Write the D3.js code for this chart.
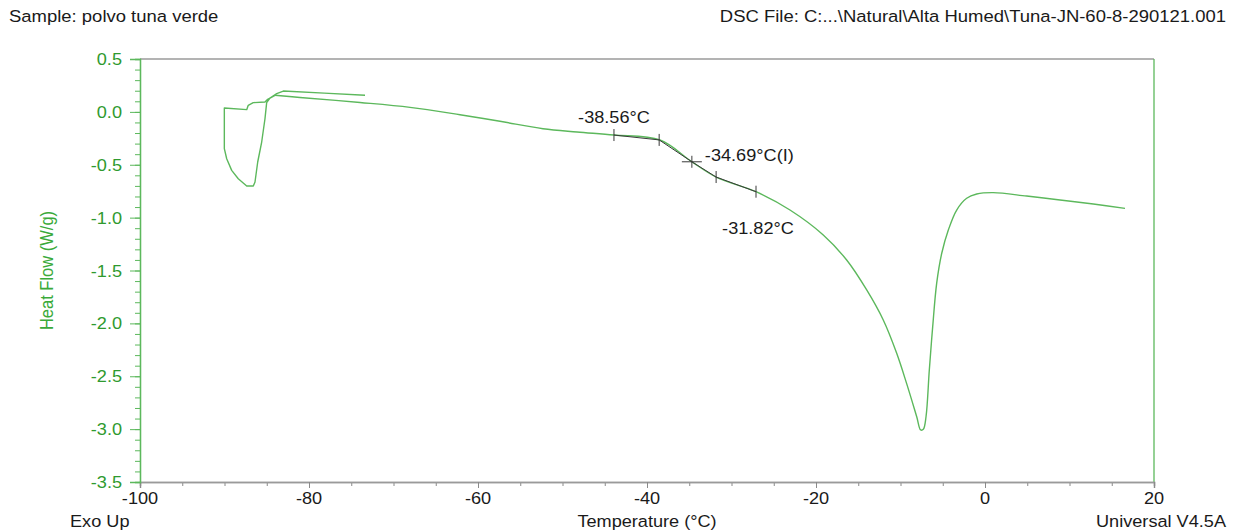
<!DOCTYPE html>
<html>
<head>
<meta charset="utf-8">
<script src="https://cdn.jsdelivr.net/npm/d3@7"></script>
<style>
  html, body { margin: 0; padding: 0; background: #fff; }
  svg { display: block; font-family: "Liberation Sans", Arial, sans-serif; }
</style>
</head>
<body>
<svg id="chart" width="1239" height="532"></svg>
<script>
// DSC thermogram: cooling to -90 °C, then heating to ~17 °C
const temperature = [
  -73.37, -78.2, -83.04, -83.82, -84.62, -85.01, -85.21, -85.60, -86.07, -86.39,
  -86.59, -87.37, -88.37, -89.15, -89.74, -90.02, -90.02, -87.37, -87.19, -86.60,
  -85.21, -84.89, -84.02, -81.07, -73.96, -68.05, -62.13, -57.40, -52.31, -48.28,
  -43.91, -38.46, -34.71, -31.76, -27.10, -23.08, -19.14, -16.37, -14.00, -12.04,
  -10.45, -9.27, -8.08, -7.61, -7.30, -6.98, -6.59, -6.19, -5.72, -5.12,
  -4.34, -3.35, -2.17, -0.98, 0.98, 4.93, 8.88, 12.82, 16.57
];
const heatFlow = [
  0.157, 0.177, 0.197, 0.172, 0.131, 0.087, -0.065, -0.285, -0.474, -0.663,
  -0.701, -0.701, -0.632, -0.553, -0.443, -0.348, 0.037, 0.021, 0.062, 0.087,
  0.093, 0.119, 0.157, 0.136, 0.089, 0.043, -0.027, -0.089, -0.159, -0.190,
  -0.219, -0.266, -0.471, -0.619, -0.755, -0.928, -1.164, -1.401, -1.684, -1.968,
  -2.283, -2.57, -2.883, -3.008, -3.002, -2.883, -2.441, -2.031, -1.621, -1.337,
  -1.117, -0.928, -0.817, -0.777, -0.764, -0.796, -0.833, -0.871, -0.912
];
// index where the heating ramp begins
const heatingStart = 22;

// Glass transition analysis
const analysisLimits = [-43.91, -27.10];
const onsetTemp = -38.56, inflectionTemp = -34.69, endTemp = -31.82;
const transitionLabels = ["-38.56°C", "-34.69°C(I)", "-31.82°C"];

// Axis ticks
const xTicks = [-100, -80, -60, -40, -20, 0, 20];
const yTicks = [0.5, 0.0, -0.5, -1.0, -1.5, -2.0, -2.5, -3.0, -3.5];

const headerLeft = "Sample: polvo tuna verde";
const headerRight = "DSC File: C:...\\Natural\\Alta Humed\\Tuna-JN-60-8-290121.001";

const svg = d3.select("#chart");
const plotLeft = 140, plotRight = 1154, plotTop = 59, plotBottom = 482;
const x = d3.scaleLinear().domain([-100, 20]).range([plotLeft, plotRight]);
const y = d3.scaleLinear().domain([-3.5, 0.5]).range([plotBottom, plotTop]);

const green = "#5cb85c", textGreen = "#2f9a2f", stretch = 1.1;

function label(txt, px, py, anchor, size, color) {
  return svg.append("text")
    .attr("transform", `translate(${px},${py}) scale(${stretch},1)`)
    .attr("text-anchor", anchor)
    .attr("font-size", size)
    .attr("fill", color || "#1a1a1a")
    .text(txt);
}

// frame
svg.append("line").attr("x1", plotLeft).attr("x2", plotRight).attr("y1", plotTop).attr("y2", plotTop)
  .attr("stroke", "#9a9a9a").attr("stroke-width", 1.5);
svg.append("line").attr("x1", plotRight).attr("x2", plotRight).attr("y1", plotTop).attr("y2", plotBottom)
  .attr("stroke", green).attr("stroke-width", 1.3);

// x axis: minor every 5 °C, major every 20 °C
const xMinor = d3.range(-100, 20.01, 5);
const xAxisG = svg.append("g").attr("transform", `translate(0,${plotBottom})`);
xAxisG.call(d3.axisBottom(x).tickValues(xMinor).tickSize(4).tickFormat(""));
xAxisG.append("g").call(d3.axisBottom(x).tickValues(xTicks).tickSize(6).tickFormat(""));
xAxisG.selectAll("path.domain").attr("stroke", "#9a9a9a").attr("stroke-width", 1.5);
xAxisG.selectAll(".tick line").attr("stroke", "#8a8a8a");
xTicks.forEach(t => label(d3.format("d")(t).replace("−", "-"), x(t), 504, "middle", "16.5px"));

// y axis: minor every 0.1, major every 0.5
const yMinor = d3.range(-35, 6).map(d => d / 10);
const yAxisG = svg.append("g").attr("transform", `translate(${plotLeft},0)`);
yAxisG.call(d3.axisLeft(y).tickValues(yMinor).tickSize(5).tickFormat(""));
yAxisG.append("g").call(d3.axisLeft(y).tickValues(yTicks).tickSize(10).tickFormat(""));
yAxisG.selectAll("path.domain").attr("stroke", green).attr("stroke-width", 1.3);
yAxisG.selectAll(".tick line").attr("stroke", green);
yTicks.forEach(v => label(d3.format(".1f")(v).replace("−", "-"), 122, y(v) + 6, "end", "16.5px", textGreen));

// axis titles and footer
svg.append("text")
  .attr("transform", `translate(53,${(plotTop + plotBottom) / 2}) rotate(-90) scale(1,${stretch})`)
  .attr("text-anchor", "middle").attr("font-size", "16.5px").attr("fill", "#3aaa3a")
  .text("Heat Flow (W/g)");
label("Temperature (°C)", 647, 527, "middle", "16.5px");
label("Exo Up", 70, 527, "start", "16.5px");
label("Universal V4.5A", 1226, 527, "end", "16.5px");
label(headerLeft, 9, 22, "start", "16.8px");
label(headerRight, 1226, 22, "end", "16.8px");

// heat flow curve: the cooling loop has sharp corners, the heating ramp is smooth
const points = temperature.map((t, i) => [t, heatFlow[i]]);
const cooling = points.slice(0, heatingStart + 1);
const heating = points.slice(heatingStart);
svg.append("path").datum(cooling)
  .attr("d", d3.line().x(d => x(d[0])).y(d => y(d[1])))
  .attr("fill", "none").attr("stroke", green).attr("stroke-width", 1.4)
  .attr("stroke-linejoin", "round");
svg.append("path").datum(heating)
  .attr("d", d3.line().x(d => x(d[0])).y(d => y(d[1])).curve(d3.curveCatmullRom.alpha(0.5)))
  .attr("fill", "none").attr("stroke", green).attr("stroke-width", 1.4);

function hfAt(t) {
  for (let i = 0; i < heating.length - 1; i++) {
    const a = heating[i], b = heating[i + 1];
    if (t >= a[0] && t <= b[0]) return a[1] + (b[1] - a[1]) * (t - a[0]) / (b[0] - a[0]);
  }
  return NaN;
}

// tangent construction over the analysis range
const marks = [analysisLimits[0], onsetTemp, inflectionTemp, endTemp, analysisLimits[1]];
const tangentPts = marks.map(t => [t, hfAt(t)]);
svg.append("path").datum(tangentPts)
  .attr("d", d3.line().x(d => x(d[0])).y(d => y(d[1])))
  .attr("fill", "none").attr("stroke", "#3a3a3a").attr("stroke-width", 1);

// tick marks at the limits and the onset/end points
[analysisLimits[0], onsetTemp, endTemp, analysisLimits[1]].forEach(t => {
  svg.append("line").attr("x1", x(t)).attr("x2", x(t))
    .attr("y1", y(hfAt(t)) - 6).attr("y2", y(hfAt(t)) + 6)
    .attr("stroke", "#3a3a3a").attr("stroke-width", 1);
});
// inflection cross
const ix = x(inflectionTemp), iy = y(hfAt(inflectionTemp));
svg.append("line").attr("x1", ix - 10).attr("x2", ix + 10).attr("y1", iy).attr("y2", iy)
  .attr("stroke", "#3a3a3a").attr("stroke-width", 1);
svg.append("line").attr("x1", ix).attr("x2", ix).attr("y1", iy - 6).attr("y2", iy + 6)
  .attr("stroke", "#3a3a3a").attr("stroke-width", 1);

// transition labels
label(transitionLabels[0], x(analysisLimits[0]), y(hfAt(analysisLimits[0])) - 12, "middle", "16.5px");
label(transitionLabels[1], ix + 13, iy - 1, "start", "16.5px");
label(transitionLabels[2], x(endTemp) + 6, y(hfAt(endTemp)) + 57, "start", "16.5px");
</script>
</body>
</html>
